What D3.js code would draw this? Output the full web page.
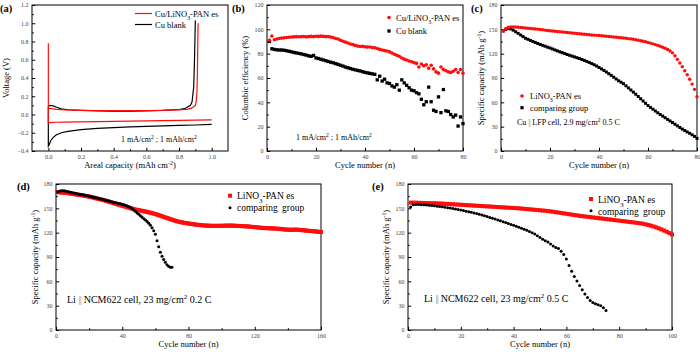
<!DOCTYPE html>
<html>
<head>
<meta charset="utf-8">
<script src="https://cdn.jsdelivr.net/npm/d3@7"></script>
<style>
  body { margin: 0; background: #fff; }
  svg { display: block; font-family: "Liberation Serif", "Times New Roman", serif; }
</style>
</head>
<body>
<svg id="chart" width="700" height="352"></svg>
<script>
// ---- (a) voltage profiles: [areal capacity, voltage]
const aRedPlating = [[0,0.78],[0,-0.095],[0.01,-0.088],[0.05,-0.085],[0.1,-0.083],[0.2,-0.08],[0.3,-0.078],[0.4,-0.075],[0.5,-0.073],[0.6,-0.07],[0.7,-0.068],[0.8,-0.065],[0.9,-0.062],[1.0,-0.058]];
const aRedStripping = [[0,0.068],[0.02,0.064],[0.05,0.056],[0.1,0.05],[0.2,0.046],[0.3,0.044],[0.4,0.043],[0.5,0.043],[0.6,0.044],[0.7,0.046],[0.8,0.05],[0.85,0.057],[0.88,0.072],[0.9,0.1],[0.905,0.14],[0.91,0.25],[0.913,0.5],[0.915,0.8],[0.917,1.0]];
const aBlackPlating = [[0,0.09],[0,-0.345],[0.005,-0.33],[0.015,-0.285],[0.03,-0.25],[0.05,-0.222],[0.08,-0.2],[0.12,-0.185],[0.2,-0.165],[0.3,-0.152],[0.4,-0.143],[0.5,-0.136],[0.6,-0.13],[0.7,-0.125],[0.8,-0.12],[0.9,-0.115],[1.0,-0.108]];
const aBlackStripping = [[0,0.09],[0.01,0.1],[0.03,0.095],[0.05,0.08],[0.08,0.062],[0.12,0.052],[0.2,0.045],[0.3,0.04],[0.4,0.038],[0.5,0.038],[0.6,0.04],[0.7,0.045],[0.8,0.055],[0.84,0.068],[0.87,0.1],[0.88,0.14],[0.89,0.3],[0.895,0.6],[0.9,1.03]];

// ---- (b) coulombic efficiency, cycles 1..80
const bRed = [91,94.5,91.5,92,92.5,92.8,93,93.3,93.5,93.7,
  93.8,94,93.9,94,94.1,93.8,94,94.2,94,94.3,
  94.2,94.4,94.2,94,94.1,93.6,93.2,92.5,92,91,
  90.2,89.5,88.8,88,87.5,86.8,86.2,85.9,86,85.6,
  85.4,85.5,85,84.8,84.2,83.5,83,82.5,82.2,81.5,
  80.5,79.5,78.6,77.8,76.5,75.5,74.8,74,73.3,72.6,
  72,69,71.5,70,70.8,68,70.5,67.5,65,64,
  69,67,66,65,64.5,65.5,67,64.5,67,64];
const bBlack = [90,84,83.5,83.2,83,83,82.8,82.4,82,81.5,
  81,80.6,80.2,79.8,79.3,78.8,78.2,77.8,78.5,76.5,
  76,75.4,74.8,74.2,73.6,73,72.5,71.8,71.2,70.5,
  69.8,69,68.4,67.8,67.2,66.7,66.2,65.8,65.2,64.6,
  64.2,63.8,63.4,63,58.5,61.5,57.5,59,56,55.5,
  53.5,52.5,54.5,50,58.5,56,54,52,50,49.5,
  48,47,42.5,38,40.5,52.5,40.5,33.5,32.5,44.5,
  31.5,50.5,33,32.5,30,28,29.5,20.5,28,22.5];

// ---- (c) Cu || LFP, cycles 1..80
const cRed = [148,151,152.5,153,153,152.8,152.5,152.3,152,151.7,
  151.4,151.1,150.8,150.5,150.2,149.8,149.4,149,148.6,148.2,
  147.9,147.6,147.3,147,146.7,146.4,146.1,145.8,145.5,145.2,
  144.9,144.6,144.3,144,143.7,143.4,143.1,142.8,142.6,142.4,
  142.1,141.8,141.5,141.2,140.9,140.6,140.3,140,139.7,139.4,
  139,138.6,138.2,137.8,137.2,136.6,136,135.3,134.6,133.8,
  133,132.1,131.2,130.2,129.1,127.9,126.6,125.1,123.3,121,
  117.5,113,108.5,104,99,94,88.5,82.5,76,67];
const cBlack = [148,150,151,150.5,149,147,145,143,141,139,
  137.7,136.3,135,133.8,132.6,131.4,130.3,129.2,128,127,
  125.8,124.6,123.4,122.3,121.2,120.1,119,118,117,116,
  115,114,112.8,111.7,110.5,109.2,107.8,106.4,104.8,103,
  101.2,99.4,97.4,95.3,93.2,91,88.8,86.6,84.8,83,
  80.4,77.8,75.2,72.6,70,67.2,64.4,61.6,58.8,56,
  53.7,51.5,49.3,47.1,45,43,41,39,37,35,
  33,31,29,27,25.2,23.5,21.8,20,18,15.5];

// ---- (d) Li || NCM622 0.2 C
const dRed = [170,169.8,169.6,169.4,169.2,169,168.7,168.4,168.1,167.8,
  167.5,167.2,166.9,166.6,166.3,166,165.6,165.2,164.8,164.4,
  164,163.5,163,162.5,162,161.5,161,160.5,160,159.4,
  158.8,158.2,157.6,157,156.3,155.6,155,154.4,153.8,153.2,
  152.6,152,151.4,150.8,150.2,149.6,149,148.5,148.1,147.7,
  147.3,146.9,146.5,146.1,145.6,145.1,144.6,144.1,143.5,142.9,
  142.3,141.6,140.9,140.2,139.5,138.8,138.1,137.4,136.7,136,
  135.3,134.7,134.1,133.6,133.1,132.7,132.3,131.9,131.6,131.3,
  131,130.7,130.4,130.1,129.8,129.6,129.4,129.2,129,128.8,
  128.7,128.6,128.5,128.4,128.4,128.4,128.4,128.4,128.4,128.5,
  128.5,128.6,128.6,128.7,128.7,128.7,128.6,128.5,128.4,128.3,
  128.2,128.1,128,127.9,127.8,127.6,127.4,127.2,127,126.8,
  126.6,126.4,126.2,126,125.8,125.7,125.6,125.5,125.4,125.3,
  125.2,125.1,125,124.8,124.6,124.4,124.2,124,123.8,123.7,
  123.6,123.6,123.6,123.7,123.7,123.6,123.4,123.2,123,122.8,
  122.6,122.4,122.2,122,121.8,121.6,121.4,121.2,121,120.8];
const dBlack = [170,171,171.6,171.8,171.6,171.2,170.7,170.2,169.7,169.2,
  168.8,168.3,167.9,167.5,167.1,166.7,166.3,165.9,165.5,165.1,
  164.6,164.1,163.6,163.1,162.6,162.1,161.6,161.1,160.6,160.1,
  159.5,158.9,158.3,157.8,157.3,156.9,156.5,156.1,155.6,155.1,
  154.5,153.8,153,152.1,151,149.6,148,146.2,144.4,142.6,
  140.8,139,137.2,135.5,133.7,131.5,129,126,122.5,118,
  110,102.5,96,91,87,83.5,80.5,78.5,77.5,77.5];

// ---- (e) Li || NCM622 0.5 C
const eRed = [157,157,156.9,156.8,156.7,156.6,156.5,156.4,156.3,156.2,
  156.1,156,155.8,155.6,155.4,155.2,155,154.8,154.6,154.4,
  154.2,154,153.8,153.6,153.4,153.2,153,152.8,152.6,152.4,
  152.2,152,151.8,151.6,151.4,151.2,151,150.8,150.6,150.4,
  150.2,150,149.7,149.4,149.1,148.8,148.5,148.2,147.9,147.6,
  147.3,147,146.6,146.2,145.8,145.3,144.8,144.3,143.8,143.3,
  142.8,142.3,141.8,141.3,140.8,140.4,140,139.6,139.2,138.8,
  138.4,138,137.6,137.2,136.8,136.4,136,135.6,135.2,134.8,
  134.4,134,133.6,133.2,132.8,132.4,132,131.5,131,130.3,
  129.5,128.6,127.6,126.5,125.3,124,122.6,121.1,119.5,117.8];
const eBlack = [151.7,154.5,154.8,154.7,154.5,154.3,154.1,153.8,153.5,153.1,
  152.7,152.3,151.8,151.3,150.8,150.3,149.7,149.1,148.5,147.8,
  147.2,146.5,145.8,145.1,144.3,143.5,142.6,141.7,140.8,139.8,
  138.8,137.8,136.8,135.7,134.6,133.5,132.4,131.3,130.2,129.1,
  127.9,126.7,125.5,124.2,122.9,121.5,120,118.3,116.3,114,
  111.8,110,108.5,106,103.5,101.8,100.5,97,93,87.5,
  79.5,72.5,66,60.5,55,49.5,44.5,40,36.5,34,
  32.5,31,30,27.5,24];

// ticks
const aXTicks = [0, 0.2, 0.4, 0.6, 0.8, 1.0];
const aYTicks = [-0.4, -0.2, 0, 0.2, 0.4, 0.6, 0.8, 1.0, 1.2];
const ticks80 = [0, 20, 40, 60, 80];
const bYTicks = [0, 20, 40, 60, 80, 100, 120];
const capTicks = [0, 30, 60, 90, 120, 150, 180];
const dXTicks = [0, 40, 80, 120, 160];
const eXTicks = [0, 20, 40, 60, 80, 100];

const RED = "#ff0d0d";
const svg = d3.select("#chart");

function withIndex(vals) {
  return vals.map((v, i) => [i + 1, v]);
}

// text with <sup>/<sub> bits: parts = [[string, "sup"|"sub"|"bar"|undefined], ...]
function richText(sel, parts) {
  parts.forEach(p => {
    const t = sel.append("tspan").text(p[0]);
    if (p[1] === "sup") t.attr("baseline-shift", "super").attr("font-size", "70%");
    if (p[1] === "sub") t.attr("baseline-shift", "sub").attr("font-size", "70%");
    if (p[1] === "bar") t.attr("fill", "#888").attr("letter-spacing", -0.6);
  });
  return sel;
}

function midpoints(arr) {
  let out = [];
  for (let i = 0; i < arr.length - 1; i++) out.push((arr[i] + arr[i + 1]) / 2);
  return out;
}

function makePanel(box, xDom, yDom, xTicks, yTicks, fmtX, fmtY) {
  const x = d3.scaleLinear().domain(xDom).range([box.l, box.r]);
  const y = d3.scaleLinear().domain(yDom).range([box.b, box.t]);
  const g = svg.append("g");

  // minor ticks
  g.append("g").attr("transform", `translate(0,${box.b})`)
    .call(d3.axisBottom(x).tickValues(midpoints(xTicks)).tickSize(-1.8).tickFormat(""))
    .call(a => a.select(".domain").remove());
  g.append("g").attr("transform", `translate(${box.l},0)`)
    .call(d3.axisLeft(y).tickValues(midpoints(yTicks)).tickSize(-1.8).tickFormat(""))
    .call(a => a.select(".domain").remove());

  // major ticks
  const xa = g.append("g").attr("transform", `translate(0,${box.b})`)
    .call(d3.axisBottom(x).tickValues(xTicks).tickSize(-3.2).tickPadding(4).tickFormat(fmtX));
  const ya = g.append("g").attr("transform", `translate(${box.l},0)`)
    .call(d3.axisLeft(y).tickValues(yTicks).tickSize(-3.2).tickPadding(3.5).tickFormat(fmtY));
  [xa, ya].forEach(a => {
    a.select(".domain").remove();
    a.selectAll("text").attr("font-family", "Liberation Serif").attr("font-size", 6).attr("fill", "#444");
    a.selectAll("line").attr("stroke", "#000");
  });

  g.append("rect")
    .attr("x", box.l).attr("y", box.t)
    .attr("width", box.r - box.l).attr("height", box.b - box.t)
    .attr("fill", "none").attr("stroke", "#000").attr("stroke-width", 1);

  const plot = svg.append("g");
  return {x, y, g, plot, box};
}

function axisTitles(p, xParts, yParts, xy, yx, fs) {
  richText(svg.append("text")
    .attr("x", (p.box.l + p.box.r) / 2).attr("y", xy)
    .attr("text-anchor", "middle").attr("font-size", fs), xParts);
  richText(svg.append("text")
    .attr("transform", `translate(${yx},${(p.box.t + p.box.b) / 2}) rotate(-90)`)
    .attr("text-anchor", "middle").attr("font-size", fs), yParts);
}

function panelLabel(txt, x, y) {
  svg.append("text").attr("x", x).attr("y", y)
    .attr("font-size", 10.5).attr("font-weight", "bold").text(txt);
}

function circles(p, data, r, color) {
  p.plot.selectAll(null).data(data).join("circle")
    .attr("cx", d => p.x(d[0])).attr("cy", d => p.y(d[1]))
    .attr("r", r).attr("fill", color);
}

function squares(p, data, s, color) {
  p.plot.selectAll(null).data(data).join("rect")
    .attr("x", d => p.x(d[0]) - s / 2).attr("y", d => p.y(d[1]) - s / 2)
    .attr("width", s).attr("height", s).attr("fill", color);
}

const capTitle = [["Specific capacity (mAh g"], ["-1", "sup"], [")"]];
const cycTitle = [["Cycle number (n)"]];
const f1 = d3.format(".1f");
const fInt = d3.format("d");

// ===== (a)
const pa = makePanel({l: 32, r: 228, t: 5, b: 151}, [-0.1, 1.1], [-0.4, 1.2], aXTicks, aYTicks, f1, f1);
const lineA = d3.line().x(d => pa.x(d[0])).y(d => pa.y(d[1]));
[[aBlackPlating, "#000"], [aBlackStripping, "#000"], [aRedPlating, RED], [aRedStripping, RED]].forEach(s => {
  pa.plot.append("path").attr("d", lineA(s[0])).attr("fill", "none")
    .attr("stroke", s[1]).attr("stroke-width", 1.2);
});
axisTitles(pa, [["Areal capacity (mAh cm"], ["-2", "sup"], [")"]], [["Voltage (V)"]], 168, 9, 8.5);
panelLabel("(a)", 0, 12);
pa.plot.append("line").attr("x1", 135).attr("x2", 152).attr("y1", 13.5).attr("y2", 13.5).attr("stroke", RED).attr("stroke-width", 1.2);
pa.plot.append("line").attr("x1", 135).attr("x2", 152).attr("y1", 24.5).attr("y2", 24.5).attr("stroke", "#000").attr("stroke-width", 1.2);
richText(svg.append("text").attr("x", 155).attr("y", 16.5).attr("font-size", 8.5), [["Cu/LiNO"], ["3", "sub"], ["-PAN es"]]);
svg.append("text").attr("x", 155).attr("y", 27.5).attr("font-size", 8.5).text("Cu blank");
richText(svg.append("text").attr("x", 121).attr("y", 142).attr("font-size", 8), [["1 mA/cm"], ["2", "sup"], [" ; 1 mAh/cm"], ["2", "sup"]]);

// ===== (b)
const pb = makePanel({l: 267, r: 463, t: 5, b: 151}, [0, 80], [0, 120], ticks80, bYTicks, fInt, fInt);
squares(pb, withIndex(bBlack), 3.3, "#000");
circles(pb, withIndex(bRed), 1.8, RED);
axisTitles(pb, cycTitle, [["Columbic efficiency (%)"]], 168, 248, 8.5);
panelLabel("(b)", 232, 12);
circles({x: d => d, y: d => d, plot: pb.plot}, [[389, 17.5]], 1.8, RED);
squares({x: d => d, y: d => d, plot: pb.plot}, [[389, 31]], 3.3, "#000");
richText(svg.append("text").attr("x", 396).attr("y", 20.5).attr("font-size", 8.5), [["Cu/LiNO"], ["3", "sub"], ["-PAN es"]]);
svg.append("text").attr("x", 396).attr("y", 34).attr("font-size", 8.5).text("Cu blank");
richText(svg.append("text").attr("x", 296).attr("y", 140).attr("font-size", 8), [["1 mA/cm"], ["2", "sup"], [" ; 1 mAh/cm"], ["2", "sup"]]);

// ===== (c)
const pc = makePanel({l: 501, r: 697, t: 5, b: 151}, [0, 80], [0, 180], ticks80, capTicks, fInt, fInt);
squares(pc, withIndex(cBlack), 3, "#000");
circles(pc, withIndex(cRed), 1.7, RED);
axisTitles(pc, cycTitle, capTitle, 168, 484, 8.5);
panelLabel("(c)", 471, 12);
circles({x: d => d, y: d => d, plot: pc.plot}, [[522, 96]], 1.8, RED);
squares({x: d => d, y: d => d, plot: pc.plot}, [[522, 107.7]], 3.2, "#000");
richText(svg.append("text").attr("x", 530).attr("y", 99).attr("font-size", 8.5), [["LiNO"], ["3", "sub"], ["-PAN es"]]);
svg.append("text").attr("x", 530).attr("y", 110.7).attr("font-size", 8.5).text("comparing group");
richText(svg.append("text").attr("x", 517).attr("y", 125).attr("font-size", 8), [["Cu "], ["||", "bar"], [" LFP cell, 2.9 mg/cm"], ["2", "sup"], ["  0.5 C"]]);

// ===== (d)
const pd = makePanel({l: 56, r: 321, t: 184, b: 330}, [0, 160], [0, 180], dXTicks, capTicks, fInt, fInt);
squares(pd, withIndex(dRed), 4, RED);
circles(pd, withIndex(dBlack), 1.5, "#000");
axisTitles(pd, cycTitle, capTitle, 347, 38, 8.5);
panelLabel("(d)", 17, 190);
squares({x: d => d, y: d => d, plot: pd.plot}, [[230, 195.7]], 4, RED);
circles({x: d => d, y: d => d, plot: pd.plot}, [[230, 207.7]], 1.5, "#000");
richText(svg.append("text").attr("x", 237).attr("y", 199).attr("font-size", 9.5), [["LiNO"], ["3", "sub"], ["-PAN es"]]);
svg.append("text").attr("x", 237).attr("y", 211).attr("font-size", 9.5).attr("word-spacing", 2).text("comparing group");
richText(svg.append("text").attr("x", 67).attr("y", 303).attr("font-size", 10), [["Li "], ["||", "bar"], [" NCM622 cell, 23 mg/cm"], ["2", "sup"], ["  0.2 C"]]);

// ===== (e)
const pe = makePanel({l: 408, r: 672, t: 184, b: 330}, [0, 100], [0, 180], eXTicks, capTicks, fInt, fInt);
squares(pe, withIndex(eRed), 4, RED);
circles(pe, withIndex(eBlack), 1.5, "#000");
axisTitles(pe, cycTitle, capTitle, 347, 389, 8.5);
panelLabel("(e)", 372, 190);
squares({x: d => d, y: d => d, plot: pe.plot}, [[591, 199]], 4, RED);
circles({x: d => d, y: d => d, plot: pe.plot}, [[591, 210.7]], 1.5, "#000");
richText(svg.append("text").attr("x", 598).attr("y", 202.5).attr("font-size", 9.5), [["LiNO"], ["3", "sub"], ["-PAN es"]]);
svg.append("text").attr("x", 598).attr("y", 214.5).attr("font-size", 9.5).attr("word-spacing", 2).text("comparing group");
richText(svg.append("text").attr("x", 424).attr("y", 302).attr("font-size", 10), [["Li "], ["||", "bar"], [" NCM622 cell, 23 mg/cm"], ["2", "sup"], ["  0.5 C"]]);
</script>
</body>
</html>
